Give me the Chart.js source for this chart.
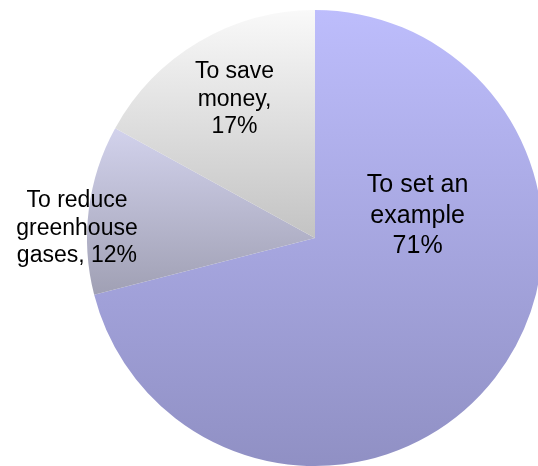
<!DOCTYPE html>
<html lang="en">
<head>
    <meta charset="UTF-8">
    <title>Reasons</title>
    <script src="https://cdn.jsdelivr.net/npm/chart.js"></script>
    <style>
        html, body { margin: 0; padding: 0; background: #fff; overflow: hidden; }
        #wrap { position: absolute; left: 0; top: 0; width: 560px; height: 480px; }
    </style>
</head>
<body>
    <div id="wrap"><canvas id="myChart" width="560" height="480"></canvas></div>
    <script>
        // data
        const categories = ['To set an example', 'To reduce greenhouse gases', 'To save money'];
        const shares = [71, 12, 17];
        const labelLines = [
            ['To set an', 'example', '71%'],
            ['To reduce', 'greenhouse', 'gases, 12%'],
            ['To save', 'money,', '17%']
        ];

        // styling
        const gradStops = [
            ['#bdbdfc', '#9090c4'],
            ['#d2d2ec', '#a0a0b4'],
            ['#f9f9f9', '#c3c3c3']
        ];
        // label anchor relative to pie centre, in radius units; font size; line height
        const labelPlace = [
            { dx: 0.45, dy: -0.107, size: 25, lh: 30.5 },
            { dx: -1.044, dy: -0.05, size: 23, lh: 27.5 },
            { dx: -0.353, dy: -0.616, size: 23, lh: 27.5 }
        ];

        function pieGeom(area) {
            return {
                cx: (area.left + area.right) / 2,
                cy: (area.top + area.bottom) / 2,
                r: Math.min(area.right - area.left, area.bottom - area.top) / 2
            };
        }

        // vertical extent of a slice (angles clockwise from top)
        function sliceYRange(i, g) {
            const total = shares.reduce((a, b) => a + b, 0);
            let start = 0;
            for (let k = 0; k < i; k++) start += shares[k];
            const a0 = start / total * 2 * Math.PI;
            const a1 = (start + shares[i]) / total * 2 * Math.PI;
            const ys = [g.cy, g.cy - g.r * Math.cos(a0), g.cy - g.r * Math.cos(a1)];
            if (a0 <= 0) ys.push(g.cy - g.r);
            if (a0 <= Math.PI && a1 >= Math.PI) ys.push(g.cy + g.r);
            if (a1 >= 2 * Math.PI) ys.push(g.cy - g.r);
            return [Math.min(...ys), Math.max(...ys)];
        }

        function sliceFill(context) {
            const chart = context.chart;
            const area = chart.chartArea;
            const i = context.dataIndex;
            if (!area) return gradStops[i][0];
            const g = pieGeom(area);
            const [y0, y1] = sliceYRange(i, g);
            const grad = chart.ctx.createLinearGradient(0, y0, 0, y1);
            grad.addColorStop(0, gradStops[i][0]);
            grad.addColorStop(1, gradStops[i][1]);
            return grad;
        }

        const sliceLabels = {
            id: 'sliceLabels',
            afterDatasetsDraw(chart) {
                const ctx = chart.ctx;
                const g = pieGeom(chart.chartArea);
                ctx.save();
                ctx.fillStyle = '#000';
                ctx.textAlign = 'center';
                ctx.textBaseline = 'alphabetic';
                labelLines.forEach((lines, i) => {
                    const p = labelPlace[i];
                    ctx.font = p.size + 'px "Liberation Sans", Arial, sans-serif';
                    const x = g.cx + p.dx * g.r;
                    const mid = g.cy + p.dy * g.r;
                    const n = lines.length;
                    lines.forEach((line, j) => {
                        const y = mid + (j - (n - 1) / 2) * p.lh + p.size * 0.716 / 2;
                        ctx.fillText(line, x, y);
                    });
                });
                ctx.restore();
            }
        };

        const ctx = document.getElementById('myChart').getContext('2d');
        const chart = new Chart(ctx, {
            type: 'pie',
            data: {
                labels: categories,
                datasets: [{
                    data: shares,
                    backgroundColor: sliceFill,
                    borderWidth: 0
                }]
            },
            options: {
                responsive: false,
                animation: false,
                devicePixelRatio: 1,
                layout: { padding: { left: 87, top: 10, right: 17, bottom: 14 } },
                plugins: {
                    legend: { display: false },
                    tooltip: { enabled: false }
                }
            },
            plugins: [sliceLabels]
        });
    </script>
</body>
</html>
